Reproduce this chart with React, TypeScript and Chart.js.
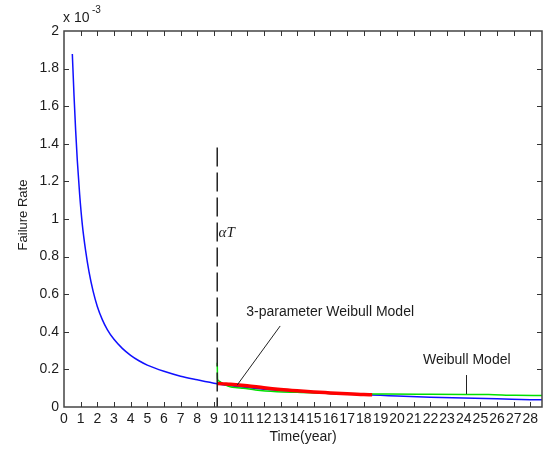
import React, { useEffect, useRef } from "react";
import { Chart, registerables } from "chart.js";

Chart.register(...registerables);

// Failure rate in units of 1e-3
const BLUE_T = [0.5, 0.6, 0.7, 0.8, 0.94, 1.1, 1.3, 1.5, 1.75, 2.0, 2.3, 2.6, 3.0, 3.5, 4.0, 4.5, 5.0, 6.0, 7.0, 8.0, 9.2, 10, 12, 14, 16, 18, 19, 20, 22, 24, 26, 28, 28.7];
const BLUE_V = [1.878, 1.66, 1.47, 1.31, 1.13, 0.97, 0.83, 0.72, 0.615, 0.535, 0.465, 0.412, 0.36, 0.312, 0.275, 0.246, 0.223, 0.19, 0.164, 0.145, 0.124, 0.113, 0.095, 0.082, 0.072, 0.065, 0.062, 0.058, 0.052, 0.048, 0.044, 0.039, 0.038];

const GREEN_T = [9.2, 9.22, 9.3, 9.47, 9.7, 9.97, 10.4, 10.76, 11.5, 12.78, 14, 14.78, 16, 17.2, 19.3, 22, 24.1, 25.5, 27.1, 28.7];
const GREEN_V = [0.235, 0.15, 0.138, 0.128, 0.117, 0.108, 0.103, 0.1, 0.09, 0.081, 0.078, 0.076, 0.072, 0.069, 0.069, 0.068, 0.067, 0.066, 0.062, 0.061];

const RED_T = [9.2, 9.6, 10, 11, 12, 13, 14, 15, 16, 17, 18, 18.5];
const RED_V = [0.125, 0.123, 0.121, 0.113, 0.102, 0.093, 0.086, 0.08, 0.075, 0.07, 0.066, 0.065];

const ALPHA_T = 9.2;
const ALPHA_LINE_TOP = 1.38;

const X_TICKS = Array.from({ length: 29 }, (_, i) => i);
const Y_TICKS = [0, 0.2, 0.4, 0.6, 0.8, 1, 1.2, 1.4, 1.6, 1.8, 2];
const X_MAX = 28.7;

const FONT = '"Liberation Sans", Arial, sans-serif';
const TEXT = "#1c1c1c";

export default function App() {
  const ref = useRef<HTMLCanvasElement>(null);

  useEffect(() => {
    document.body.style.margin = "0";
    const toXY = (ts: number[], vs: number[]) => ts.map((t, i) => ({ x: t, y: vs[i] }));

    const framePlugin = {
      id: "frame",
      afterDatasetsDraw(chart: any) {
        const { ctx, chartArea: a, scales } = chart;
        const xs = scales.x, ys = scales.y;
        ctx.save();
        ctx.strokeStyle = "#444";
        ctx.lineWidth = 1.5;
        ctx.strokeRect(a.left, a.top, a.right - a.left, a.bottom - a.top);
        ctx.lineWidth = 1;
        ctx.strokeStyle = "#333";
        ctx.beginPath();
        for (const v of X_TICKS) {
          const px = Math.round(xs.getPixelForValue(v)) + 0.5;
          if (px <= a.left + 1) continue;
          ctx.moveTo(px, a.bottom); ctx.lineTo(px, a.bottom - 5);
          ctx.moveTo(px, a.top); ctx.lineTo(px, a.top + 5);
        }
        for (const v of Y_TICKS) {
          const py = Math.round(ys.getPixelForValue(v)) + 0.5;
          if (py >= a.bottom - 1 || py <= a.top + 1) continue;
          ctx.moveTo(a.left, py); ctx.lineTo(a.left + 5, py);
          ctx.moveTo(a.right, py); ctx.lineTo(a.right - 5, py);
        }
        ctx.stroke();

        ctx.strokeStyle = "#222";
        ctx.lineWidth = 1;
        ctx.beginPath();
        ctx.moveTo(xs.getPixelForValue(12.98), ys.getPixelForValue(0.431));
        ctx.lineTo(xs.getPixelForValue(10.4), ys.getPixelForValue(0.117));
        const p2 = Math.round(xs.getPixelForValue(24.16)) + 0.5;
        ctx.moveTo(p2, ys.getPixelForValue(0.17));
        ctx.lineTo(p2, ys.getPixelForValue(0.069));
        ctx.stroke();

        ctx.fillStyle = TEXT;
        ctx.textBaseline = "middle";
        ctx.textAlign = "left";
        ctx.font = `14px ${FONT}`;
        ctx.fillText("3-parameter Weibull Model", xs.getPixelForValue(10.94), ys.getPixelForValue(0.505));
        ctx.fillText("Weibull Model", xs.getPixelForValue(21.55), ys.getPixelForValue(0.25));
        ctx.font = `italic 15px "Liberation Serif", serif`;
        ctx.fillText("\u03b1T", xs.getPixelForValue(9.28), ys.getPixelForValue(0.925));

        ctx.font = `14px ${FONT}`;
        ctx.fillText("x 10", a.left - 1, a.top - 13);
        ctx.font = `10px ${FONT}`;
        ctx.fillText("-3", a.left + 28, a.top - 21);

        ctx.font = `14px ${FONT}`;
        ctx.textAlign = "center";
        ctx.fillText("Time(year)", (a.left + a.right) / 2, 437);
        ctx.save();
        ctx.translate(23, (a.top + a.bottom) / 2 - 4);
        ctx.rotate(-Math.PI / 2);
        ctx.font = `13px ${FONT}`;
        ctx.fillText("Failure Rate", 0, 0);
        ctx.restore();
        ctx.restore();
      },
    };

    const chart = new Chart(ref.current as HTMLCanvasElement, {
      type: "line",
      data: {
        datasets: [
          {
            label: "alphaT",
            data: [{ x: ALPHA_T, y: ALPHA_LINE_TOP }, { x: ALPHA_T, y: 0 }],
            borderColor: "#222",
            borderWidth: 1.5,
            borderDash: [19, 6],
            pointRadius: 0,
            order: 0,
          },
          {
            label: "3-parameter Weibull",
            data: toXY(RED_T, RED_V),
            borderColor: "#ff0000",
            borderWidth: 3.5,
            pointRadius: 0,
            cubicInterpolationMode: "monotone",
            order: 1,
          },
          {
            label: "Weibull (fit)",
            data: toXY(GREEN_T, GREEN_V),
            borderColor: "#00e000",
            borderWidth: 1.5,
            pointRadius: 0,
            cubicInterpolationMode: "monotone",
            order: 2,
          },
          {
            label: "Weibull",
            data: toXY(BLUE_T, BLUE_V),
            borderColor: "#1010ff",
            borderWidth: 1.5,
            pointRadius: 0,
            cubicInterpolationMode: "monotone",
            order: 3,
          },
        ],
      },
      options: {
        responsive: false,
        animation: false,
        layout: { padding: { top: 31, right: 1, left: 0, bottom: 0 } },
        plugins: { legend: { display: false }, tooltip: { enabled: false } },
        scales: {
          x: {
            type: "linear",
            min: 0,
            max: X_MAX,
            afterBuildTicks: (s: any) => {
              s.ticks = X_TICKS.map((v) => ({ value: v }));
            },
            afterFit: (s: any) => {
              s.height = 43;
            },
            grid: { display: false, drawTicks: false },
            border: { display: false },
            ticks: {
              autoSkip: false,
              maxRotation: 0,
              padding: 4,
              color: TEXT,
              font: { family: FONT, size: 14 },
              callback: (v: any) => String(v),
            },
          },
          y: {
            type: "linear",
            min: 0,
            max: 2,
            afterBuildTicks: (s: any) => {
              s.ticks = Y_TICKS.map((v) => ({ value: v }));
            },
            afterFit: (s: any) => {
              s.width = 64;
            },
            grid: { display: false, drawTicks: false },
            border: { display: false },
            ticks: {
              padding: 5,
              color: TEXT,
              font: { family: FONT, size: 14 },
              callback: (v: any) => String(Number(Number(v).toFixed(1))),
            },
          },
        },
      },
      plugins: [framePlugin],
    });
    return () => chart.destroy();
  }, []);

  return <canvas ref={ref} width={543} height={450} style={{ display: "block" }} />;
}
